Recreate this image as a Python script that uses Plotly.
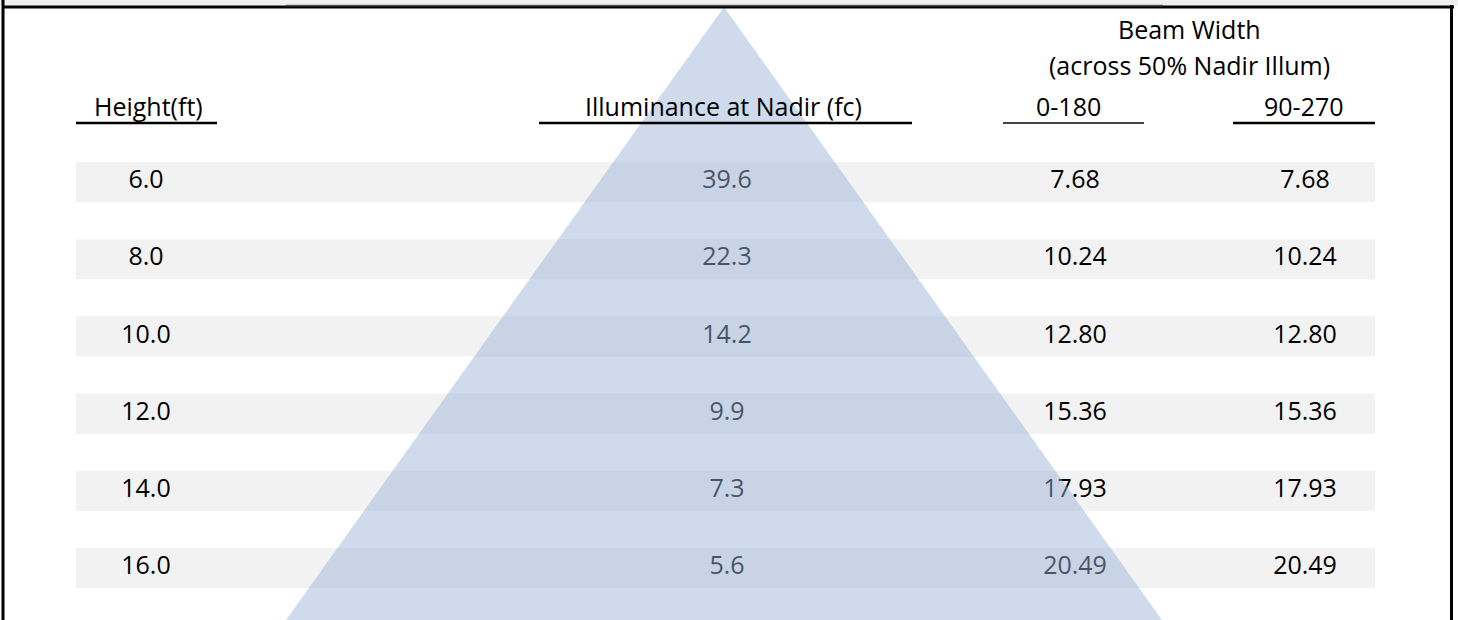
import plotly.graph_objects as go

# ---- data ----
heights = ["6.0", "8.0", "10.0", "12.0", "14.0", "16.0"]
illuminance = ["39.6", "22.3", "14.2", "9.9", "7.3", "5.6"]
beam_0_180 = ["7.68", "10.24", "12.80", "15.36", "17.93", "20.49"]
beam_90_270 = ["7.68", "10.24", "12.80", "15.36", "17.93", "20.49"]
col_headers = ["Height(ft)", "Illuminance at Nadir (fc)", "0-180", "90-270"]
group_header = ["Beam Width", "(across 50% Nadir Illum)"]

# ---- layout geometry (pixels) ----
W, H = 1458, 620
ROW0, PITCH = 182, 77.2
FONT = "Open Sans"
FS = 25


def yv(px):
    return (px - ROW0) / PITCH


rows = list(range(len(heights)))
col_x = [146, 727, 1075, 1305]
columns = [heights, illuminance, beam_0_180, beam_90_270]

fig = go.Figure()
for cx, vals in zip(col_x, columns):
    fig.add_trace(go.Scatter(
        x=[cx] * len(vals), y=rows, text=vals, mode="text",
        textposition="middle center",
        textfont=dict(family=FONT, size=FS, color="black"),
        hoverinfo="skip", showlegend=False,
    ))

shapes = []
# row bands
for r in rows:
    shapes.append(dict(type="rect", xref="x", yref="y", x0=76, x1=1375,
                       y0=r - 0.26, y1=r + 0.26, fillcolor="#f2f2f2",
                       line=dict(width=0), layer="below"))
# translucent light cone
shapes.append(dict(type="path", xref="x", yref="y",
                   path=f"M 724,{yv(7)} L 286,{yv(H)} L 1162,{yv(H)} Z",
                   fillcolor="rgb(152,178,214)", opacity=0.47,
                   line=dict(width=0), layer="above"))
# header underlines
underlines = [(76, 217, "black", 2.5), (539, 912, "black", 2.5),
              (1003, 1144, "#444444", 2), (1233, 1375, "black", 2.5)]
for x0, x1, c, w in underlines:
    shapes.append(dict(type="line", xref="x", yref="y", x0=x0, x1=x1,
                       y0=yv(123), y1=yv(123), line=dict(color=c, width=w),
                       layer="above"))
# frame
shapes.append(dict(type="rect", xref="x", yref="y", x0=0, x1=W, y0=yv(0), y1=yv(5.5),
                   fillcolor="#efefef", line=dict(width=0), layer="above"))
shapes.append(dict(type="line", xref="x", yref="y", x0=2, x1=1454, y0=yv(7), y1=yv(7),
                   line=dict(color="black", width=3), layer="above"))
shapes.append(dict(type="line", xref="x", yref="y", x0=286, x1=1163, y0=yv(5.5), y1=yv(5.5),
                   line=dict(color="#555555", width=1.5), layer="above"))
shapes.append(dict(type="line", xref="x", yref="y", x0=3, x1=3, y0=yv(0), y1=yv(H),
                   line=dict(color="black", width=3), layer="above"))
shapes.append(dict(type="line", xref="x", yref="y", x0=1451.5, x1=1451.5, y0=yv(5), y1=yv(H),
                   line=dict(color="black", width=3), layer="above"))

annotations = []
header_x = [148, 723, 1068, 1304]
for hx, t in zip(header_x, col_headers):
    annotations.append(dict(x=hx, y=yv(106), xref="x", yref="y", text=t,
                            showarrow=False, xanchor="center", yanchor="middle",
                            font=dict(family=FONT, size=FS, color="black")))
for t, py in zip(group_header, [29, 65]):
    annotations.append(dict(x=1189, y=yv(py), xref="x", yref="y", text=t,
                            showarrow=False, xanchor="center", yanchor="middle",
                            font=dict(family=FONT, size=FS, color="black")))

fig.update_layout(
    width=W, height=H, margin=dict(l=0, r=0, t=0, b=0),
    paper_bgcolor="white", plot_bgcolor="white",
    xaxis=dict(range=[0, W], visible=False, fixedrange=True),
    yaxis=dict(range=[yv(H), yv(0)], visible=False, fixedrange=True),
    shapes=shapes, annotations=annotations, showlegend=False,
)
fig.write_html("out.html", config={"displayModeBar": False},
               post_script="document.body.style.margin='0px';document.body.style.overflow='hidden';")
